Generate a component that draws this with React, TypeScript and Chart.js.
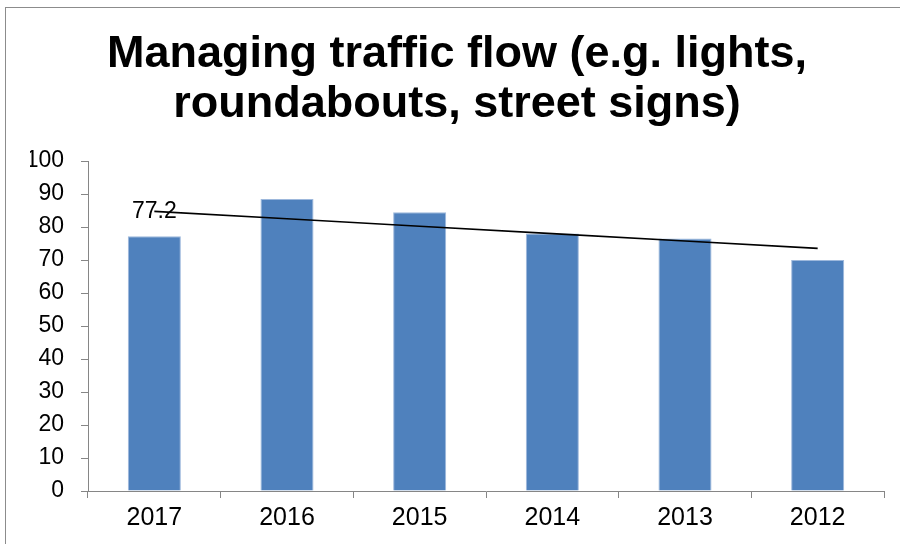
import React, { useEffect, useRef } from "react";
import { Chart, registerables } from "chart.js";

Chart.register(...registerables);

const titleLines = ["Managing traffic flow (e.g. lights,", "roundabouts, street signs)"];
const categories = ["2017", "2016", "2015", "2014", "2013", "2012"];
const values = [77.2, 88.5, 84.5, 78, 76.5, 70];
const labelledIndex = [0];
const yTicks = { min: 0, max: 100, step: 10 };

// linear least-squares trendline computed from the bar values
function trend(vals: number[]): number[] {
  const n = vals.length;
  const xs = vals.map((_, i) => i);
  const mx = xs.reduce((a, b) => a + b, 0) / n;
  const my = vals.reduce((a, b) => a + b, 0) / n;
  let num = 0;
  let den = 0;
  xs.forEach((x, i) => {
    num += (x - mx) * (vals[i] - my);
    den += (x - mx) * (x - mx);
  });
  const slope = num / den;
  const icpt = my - slope * mx;
  return xs.map((x) => icpt + slope * x);
}

const FONT = "'Liberation Sans', Arial, Helvetica, sans-serif";

const frame = {
  id: "frame",
  beforeDraw(chart: any) {
    const ctx = chart.ctx;
    ctx.save();
    ctx.fillStyle = "#ffffff";
    ctx.fillRect(0, 0, chart.width, chart.height);
    ctx.strokeStyle = "#8c8c8c";
    ctx.lineWidth = 1;
    ctx.strokeRect(5.5, 7.5, chart.width + 20, chart.height + 20);
    ctx.restore();
  },
};

const barLabels = {
  id: "barLabels",
  afterDatasetsDraw(chart: any) {
    const ctx = chart.ctx;
    const meta = chart.getDatasetMeta(1);
    ctx.save();
    ctx.font = `23px ${FONT}`;
    ctx.fillStyle = "#000000";
    ctx.textAlign = "center";
    ctx.textBaseline = "middle";
    labelledIndex.forEach((i) => {
      const el = meta.data[i];
      ctx.fillText(String(values[i]), el.x, el.y - 25);
    });
    ctx.restore();
  },
};

export default function App() {
  const ref = useRef<HTMLCanvasElement>(null);
  useEffect(() => {
    document.body.style.margin = "0";
    const chart = new Chart(ref.current as HTMLCanvasElement, {
      type: "bar",
      data: {
        labels: categories,
        datasets: [
          {
            type: "line",
            data: trend(values),
            borderColor: "#000000",
            borderWidth: 1.6,
            pointRadius: 0,
            fill: false,
            order: 0,
          } as any,
          {
            type: "bar",
            data: values,
            backgroundColor: "#4F81BD",
            borderColor: "#9db8dc",
            borderWidth: 1,
            categoryPercentage: 0.4,
            barPercentage: 1,
            order: 1,
          },
        ],
      },
      options: {
        animation: false,
        responsive: false,
        layout: { padding: { left: 30, right: 16, top: 0, bottom: 0 } },
        plugins: {
          legend: { display: false },
          tooltip: { enabled: false },
          title: {
            display: true,
            text: titleLines,
            color: "#000000",
            font: { family: FONT, size: 45, weight: "bold", lineHeight: 1.1 },
            padding: { top: 30, bottom: 32 },
          },
        },
        scales: {
          x: {
            grid: {
              display: true,
              offset: true,
              drawOnChartArea: false,
              drawTicks: true,
              tickLength: 7,
              color: "#868686",
            },
            border: { display: true, color: "#868686", width: 1 },
            ticks: { color: "#000000", font: { family: FONT, size: 25 }, padding: 5 },
            afterFit(s: any) {
              s.height = 53;
            },
          },
          y: {
            min: yTicks.min,
            max: yTicks.max,
            grid: {
              display: true,
              drawOnChartArea: false,
              drawTicks: true,
              tickLength: 7,
              color: "#868686",
            },
            border: { display: true, color: "#868686", width: 1 },
            ticks: {
              stepSize: yTicks.step,
              color: "#000000",
              font: { family: FONT, size: 23 },
              padding: 17,
            },
            afterFit(s: any) {
              s.width = 58;
            },
          },
        },
      },
      plugins: [frame, barLabels],
    });
    return () => chart.destroy();
  }, []);
  return <canvas ref={ref} width={900} height={544} style={{ display: "block" }} />;
}
